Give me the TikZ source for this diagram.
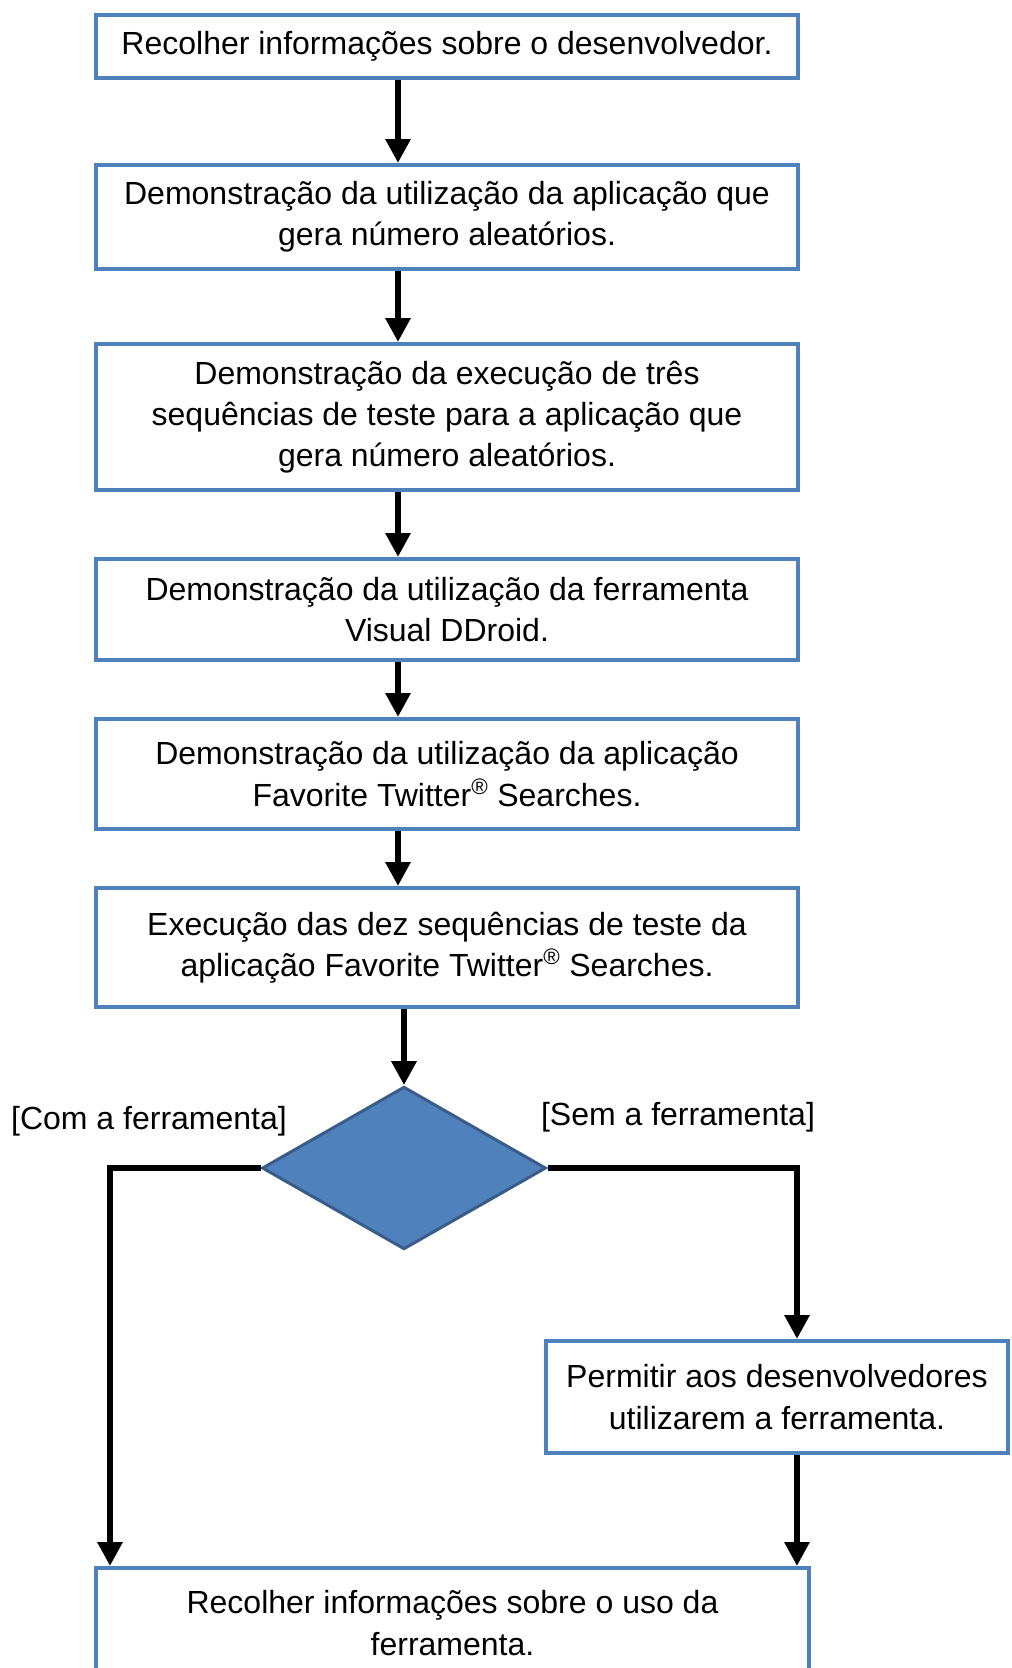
\documentclass[tikz,border=0pt]{standalone}
\usepackage{fontspec}
\setmainfont{Liberation Sans}
\usetikzlibrary{arrows.meta,shapes.geometric}
\definecolor{boxblue}{HTML}{4F81BD}
\definecolor{diaedge}{HTML}{385D8A}
\begin{document}
\begin{tikzpicture}[x=0.75pt,y=-0.75pt,
  box/.style={draw=boxblue,line width=3pt,fill=white,align=center,inner sep=0pt,
    minimum width=526.5pt,font=\fontsize{24}{31}\selectfont},
  arr/.style={draw=black,line width=4.5pt,-{Triangle[length=18pt,width=18pt]}},
  lbl/.style={font=\fontsize{24}{31}\selectfont,inner sep=0pt}]
\useasboundingbox (0,0) rectangle (1012,1668);
\node[box,minimum height=47.25pt] (b1) at (447,46.5) {Recolher informações sobre o desenvolvedor.};
\node[box,minimum height=78pt] (b2) at (447,217) {Demonstração da utilização da aplicação que\\gera número aleatórios.};
\node[box,minimum height=109.5pt] (b3) at (447,417) {Demonstração da execução de três\\sequências de teste para a aplicação que\\gera número aleatórios.};
\node[box,minimum height=75.75pt] (b4) at (447,609.5) {Demonstração da utilização da ferramenta\\Visual DDroid.};
\node[box,minimum height=82.5pt] (b5) at (447,774) {Demonstração da utilização da aplicação\\Favorite Twitter\textsuperscript{®} Searches.};
\node[box,minimum height=89.25pt] (b6) at (447,947.5) {\raisebox{5pt}{\begin{tabular}{@{}c@{}}Execução das dez sequências de teste da\\aplicação Favorite Twitter\textsuperscript{®} Searches.\end{tabular}}};
\node[diamond,draw=diaedge,fill=boxblue,line width=2.25pt,inner sep=0pt,aspect=1.74,
  minimum width=213pt,minimum height=122pt] (d) at (404,1168) {};
\node[box,minimum width=346.5pt,minimum height=84pt] (b7) at (777,1397) {Permitir aos desenvolvedores\\utilizarem a ferramenta.};
\node[box,minimum width=534.75pt,minimum height=82.5pt] (b8) at (452.5,1623) {Recolher informações sobre o uso da\\ferramenta.};
\node[lbl] (lc) at (149,1121) {[Com a ferramenta]};
\node[lbl] (ls) at (678,1117) {[Sem a ferramenta]};
\coordinate (ax) at (398,0);
\coordinate (lx) at (110,0);
\coordinate (rx) at (797,0);
\draw[arr] (b1.south -| ax) -- (b2.north -| ax);
\draw[arr] (b2.south -| ax) -- (b3.north -| ax);
\draw[arr] (b3.south -| ax) -- (b4.north -| ax);
\draw[arr] (b4.south -| ax) -- (b5.north -| ax);
\draw[arr] (b5.south -| ax) -- (b6.north -| ax);
\draw[arr] (b6.south -| d.north) -- (d.north);
\draw[arr] (d.west) -| (b8.north -| lx);
\draw[arr] (d.east) -| (b7.north -| rx);
\draw[arr] (b7.south -| rx) -- (b8.north -| rx);
\end{tikzpicture}
\end{document}
